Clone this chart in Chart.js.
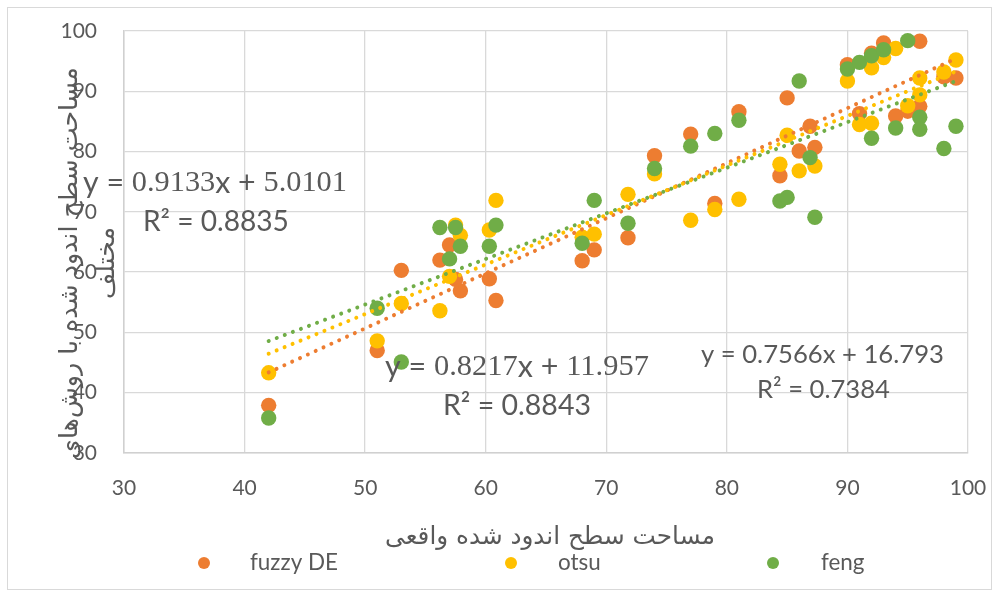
<!DOCTYPE html>
<html><head><meta charset="utf-8">
<script src="https://cdn.jsdelivr.net/npm/chart.js@4.4.1/dist/chart.umd.min.js"></script>
<style>html,body{margin:0;padding:0;background:#fff;}canvas{display:block;}</style>
</head><body>
<canvas id="c" width="1000" height="597"></canvas>
<script>
// ---- data ----
const realArea = [42, 51, 53, 56.2, 57, 57.5, 57.9, 60.3, 60.85, 68, 69, 71.8, 74, 77, 79, 81, 84.4, 85, 86, 86.9, 87.3, 90, 91, 92, 92, 93, 94, 95, 96, 96, 98, 99];
const fuzzyDE = [37.9, 47.0, 60.3, 62.0, 64.5, 58.8, 56.9, 58.9, 55.3, 61.9, 63.7, 65.7, 79.3, 82.9, 71.4, 86.6, 76.0, 88.9, 80.1, 84.2, 80.7, 94.4, 86.3, 96.3, null, 98.0, 85.9, 86.7, 98.3, 87.5, 92.4, 92.2];
const otsu = [43.3, 48.6, 54.8, 53.6, 59.3, 67.8, 66.1, 67.0, 71.9, 65.8, 66.3, 72.9, 76.3, 68.6, 70.4, 72.1, 77.9, 82.7, 76.8, null, 77.6, 91.7, 84.5, 93.9, 84.7, 95.6, 97.1, 87.6, 92.2, 89.4, 93.2, 95.2];
const feng = [35.8, 54.0, 45.1, 67.4, 62.2, 67.4, 64.3, 64.3, 67.8, 64.8, 71.9, 68.1, 77.2, 80.9, 83.0, 85.2, 71.8, 72.4, 91.7, 79.0, 69.1, 93.7, 94.8, 95.9, 82.2, 96.9, 83.9, 98.4, 85.7, 83.7, 80.5, 84.2];
const seriesNames = ['fuzzy DE', 'otsu', 'feng'];
const seriesColors = ['#ED7D31', '#FFC000', '#70AD47'];
// trendlines as shown on the chart
const trendSlope = [0.9133, 0.8217, 0.7566];
const trendIntercept = [5.0101, 11.957, 16.793];
const trendR2 = ['0.8835', '0.8843', '0.7384'];
const trendRange = [42, 99];
const axisTicks = [30, 40, 50, 60, 70, 80, 90, 100];
const xTitle = 'مساحت سطح اندود شده واقعی';
const yTitleLines = ['مساحت سطح اندود شده با روش\u200Cهای', 'مختلف'];

function pts(ys){ const out=[]; ys.forEach((y,i)=>{ if(y!==null) out.push({x:realArea[i], y:y}); }); return out; }
function trend(i){ return trendRange.map(x=>({x:x, y:trendSlope[i]*x+trendIntercept[i]})); }

const allY = [fuzzyDE, otsu, feng];
const datasets = [];
for (let i=0;i<3;i++){
  datasets.push({label: seriesNames[i], data: pts(allY[i]), backgroundColor: seriesColors[i], borderColor: seriesColors[i],
    pointRadius: 7.7, pointHoverRadius: 7.7, pointBorderWidth: 0, showLine:false, order: 3-i});
}
for (let i=0;i<3;i++){
  datasets.push({label: 'trend '+seriesNames[i], data: trend(i), showLine:true, borderColor: seriesColors[i], borderWidth: 4,
    borderDash:[0.01, 8.6], borderCapStyle:'round', pointRadius:0, fill:false, order: -i});
}

const SANS = 'Lato';
const SERIF = 'Liberation Serif';
const AR = 'DejaVu Sans';
const GREY = '#595959';

function fitSize(ctx, text, family, target){ ctx.font = '100px "'+family+'"'; return 100*target/ctx.measureText(text).width; }

function drawMixed(ctx, text, left, cy, target, serifDigits){
  const segs=[]; let cur='', curSerif=null;
  for (const ch of text){ const s = serifDigits && /[0-9.]/.test(ch); if (curSerif===null||s===curSerif){cur+=ch;curSerif=s;} else {segs.push([cur,curSerif]);cur=ch;curSerif=s;} }
  segs.push([cur,curSerif]);
  let w=0; segs.forEach(([t,s])=>{ctx.font='100px "'+(s?SERIF:SANS)+'"'; w+=ctx.measureText(t).width;});
  const size=100*target/w;
  ctx.textBaseline='middle'; ctx.textAlign='left'; ctx.fillStyle=GREY;
  let x=left; segs.forEach(([t,s])=>{ctx.font=size+'px "'+(s?SERIF:SANS)+'"'; ctx.fillText(t,x,cy); x+=ctx.measureText(t).width;});
}

const decor = {
  id:'decor',
  beforeDraw(chart){
    const ctx=chart.ctx; ctx.save();
    ctx.fillStyle='#fff'; ctx.fillRect(0,0,chart.width,chart.height);
    ctx.strokeStyle='#D9D9D9'; ctx.lineWidth=1; ctx.strokeRect(7.5,7.5,984,582);
    ctx.restore();
  },
  afterDraw(chart){
    const ctx=chart.ctx; ctx.save();
    // equations
    drawMixed(ctx, 'y = '+trendSlope[0]+'x + '+trendIntercept[0], 83, 183, 264, true);
    drawMixed(ctx, 'R² = '+trendR2[0], 143, 222, 146, false);
    drawMixed(ctx, 'y = '+trendSlope[1]+'x + '+trendIntercept[1], 385, 367, 264, true);
    drawMixed(ctx, 'R² = '+trendR2[1], 443, 406, 148, false);
    drawMixed(ctx, 'y = '+trendSlope[2]+'x + '+trendIntercept[2], 701, 355, 243, false);
    drawMixed(ctx, 'R² = '+trendR2[2], 757, 390, 133, false);
    // x title
    ctx.fillStyle=GREY; ctx.textAlign='center'; ctx.textBaseline='middle';
    let s = fitSize(ctx, xTitle, AR, 330);
    ctx.font = s+'px "'+AR+'"'; ctx.fillText(xTitle, 550, 538);
    // y title (rotated)
    s = fitSize(ctx, yTitleLines[0], AR, 392);
    ctx.font = s+'px "'+AR+'"';
    ctx.save(); ctx.translate(70, 263); ctx.rotate(-Math.PI/2); ctx.fillText(yTitleLines[0],0,0); ctx.restore();
    ctx.save(); ctx.translate(107, 263); ctx.rotate(-Math.PI/2); ctx.fillText(yTitleLines[1],0,0); ctx.restore();
    // legend
    const lx=[204,511,773], tx=[250,558,821];
    const ls = fitSize(ctx, seriesNames[0], SANS, 88);
    ctx.font = ls+'px "'+SANS+'"'; ctx.textAlign='left';
    for(let i=0;i<3;i++){
      ctx.fillStyle=seriesColors[i]; ctx.beginPath(); ctx.arc(lx[i],563,6,0,Math.PI*2); ctx.fill();
      ctx.fillStyle=GREY; ctx.fillText(seriesNames[i], tx[i], 563);
    }
    ctx.restore();
  }
};

function noPad(sc){ sc.paddingTop=0; sc.paddingBottom=0; sc.paddingLeft=0; sc.paddingRight=0; }

new Chart(document.getElementById('c'), {
  type:'scatter',
  data:{datasets},
  options:{
    responsive:false, animation:false, devicePixelRatio:1,
    layout:{autoPadding:false, padding:{left:0,right:32,top:31,bottom:0}},
    plugins:{legend:{display:false}, tooltip:{enabled:false}},
    scales:{
      x:{type:'linear', min:30, max:100, afterBuildTicks(sc){sc.ticks=axisTicks.map(v=>({value:v}));},
        grid:{color:'#D9D9D9', lineWidth:1.3, drawTicks:false}, border:{color:'#D0D0D0', width:1.5},
        ticks:{color:GREY, font:{family:SANS, size:21}, padding:23, maxRotation:0},
        afterFit(sc){sc.height=144; noPad(sc);}},
      y:{type:'linear', min:30, max:100, afterBuildTicks(sc){sc.ticks=axisTicks.map(v=>({value:v}));},
        grid:{color:'#D9D9D9', lineWidth:1.3, drawTicks:false}, border:{color:'#D0D0D0', width:1.5},
        ticks:{color:GREY, font:{family:SANS, size:21}, padding:27},
        afterFit(sc){sc.width=124; noPad(sc);}}
    }
  },
  plugins:[decor]
});
</script>
</body></html>
